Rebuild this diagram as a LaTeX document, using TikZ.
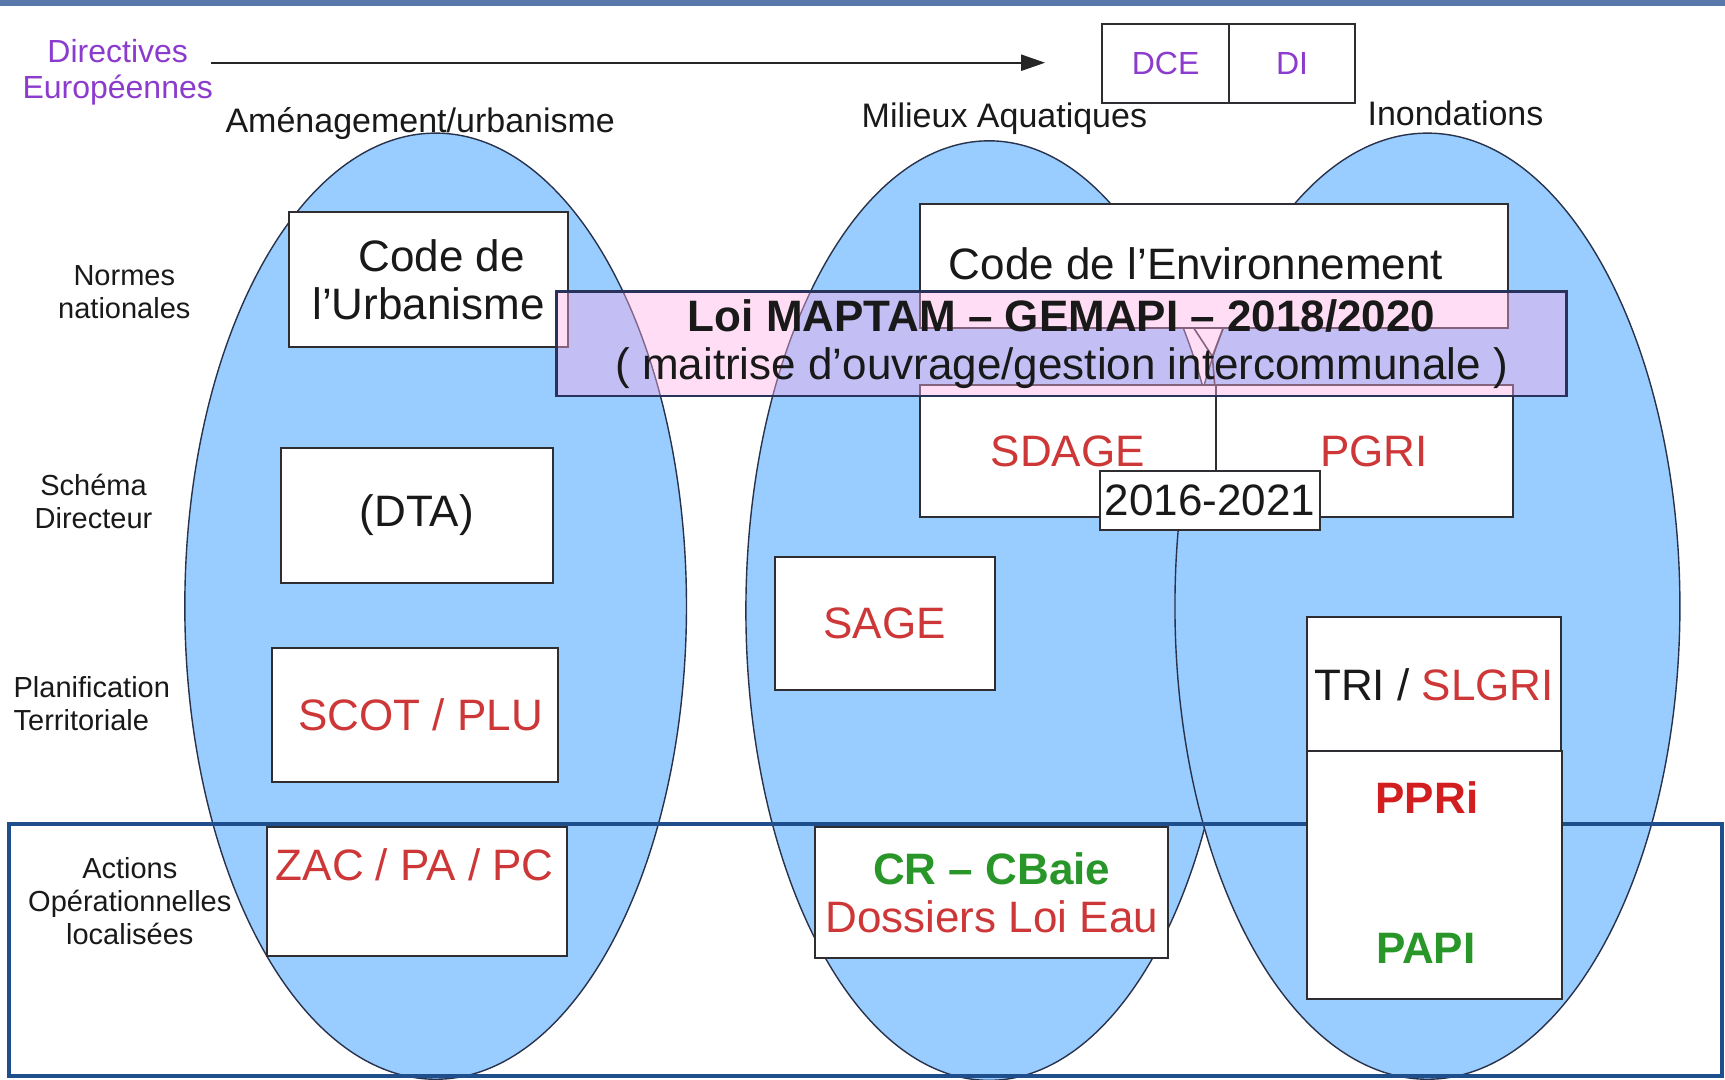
\documentclass[tikz,border=0pt]{standalone}
\usepackage{fontspec}
\setmainfont{Liberation Sans}
\usetikzlibrary{shapes.geometric,arrows.meta}
\definecolor{ellfill}{RGB}{153,204,255}
\definecolor{ellline}{RGB}{40,50,75}
\definecolor{rectline}{RGB}{30,78,140}
\definecolor{topband}{RGB}{88,120,170}
\definecolor{boxline}{RGB}{45,45,50}
\definecolor{txt}{RGB}{25,25,25}
\definecolor{purp}{RGB}{140,60,205}
\definecolor{redt}{RGB}{205,55,55}
\definecolor{redb}{RGB}{210,30,30}
\definecolor{greent}{RGB}{40,150,40}
\definecolor{mapfill}{RGB}{255,175,230}
\definecolor{mapline}{RGB}{40,50,90}
\begin{document}
\begin{tikzpicture}[x=0.55pt,y=-0.55pt,
  wh/.style 2 args={minimum width=#1*0.55pt, minimum height=#2*0.55pt},
  ell/.style={ellipse, draw=ellline, fill=ellfill, line width=0.7pt, inner sep=0pt},
  box/.style={rectangle, draw=boxline, fill=white, line width=1pt, inner sep=0pt, text=txt},
  big/.style={font=\fontsize{22}{24}\selectfont, text=txt},
  coltitle/.style={font=\fontsize{17}{19}\selectfont, text=txt},
  rowlabel/.style={font=\fontsize{14.5}{16.5}\selectfont, text=txt, inner sep=0pt},
  purpl/.style={font=\fontsize{16}{18}\selectfont, text=purp, inner sep=0pt},
]
\useasboundingbox (0,0) rectangle (1568,981);
\fill[topband] (0,0) rectangle (1568,5.5);

% ellipses
\node[ell, wh={456}{860}] (e1) at (396,551) {};
\node[ell, wh={442}{854}] (e2) at (899,555) {};
\node[ell, wh={459}{860}] (e3) at (1297.5,551) {};

% operational band
\node[draw=rectline, line width=2pt, inner sep=0pt, wh={1557}{229}] (ops) at (786.5,863.5) {};

% European directives
\node[purpl, align=center] (dir) at (107,66) {Directives\\Européennes};
\node[box, wh={115}{72}, purpl] (dce) at (1059.5,58) {DCE};
\node[box, wh={115}{72}, purpl] (di) at (1174.5,58) {DI};
\coordinate (as) at (192,57);
\coordinate (ae) at (950,57);
\draw[line width=1.1pt, draw=black!85, -{Triangle[length=12pt,width=8pt]}] (as) -- (ae);

% column titles
\node[coltitle] (t1) at (382,112) {Aménagement/urbanisme};
\node[coltitle] (t2) at (913,108) {Milieux Aquatiques};
\node[coltitle] (t3) at (1323,103) {Inondations};

% row labels
\node[rowlabel, align=center] (r1) at (113,266) {Normes\\nationales};
\node[rowlabel, align=center] (r2) at (85,456) {Schéma\\Directeur};
\node[rowlabel, align=left, anchor=west] (r3) at (12,640) {Planification\\Territoriale};
\node[rowlabel, align=center] (r4) at (118,819) {Actions\\Opérationnelles\\localisées};

% urbanisme column
\node[box, wh={253}{122}, big, align=center] (urb) at (389.5,254) {\hspace*{13pt}Code de\\l’Urbanisme};
\node[box, wh={248}{123}, big] (dta) at (379,468.5) {(DTA)};
\node[box, wh={260}{122}, big, text=redt] (scot) at (377,650) {\hspace*{6pt}SCOT / PLU};
\node[box, wh={272}{117}] (zac) at (379,810.5) {};
\node[big, text=redt, inner sep=0pt] (zact) at (377,786) {ZAC / PA / PC};

% milieux aquatiques / inondations
\node[box, wh={535}{113}, big] (env) at (1103.5,241.5) {\raisebox{2pt}{Code de l’Environnement}\hspace*{18pt}};
\draw[boxline, line width=0.8pt] (1085,298) -- (1102,324) -- (1112,298);
\node[box, wh={269}{120}, big, text=redt] (sdage) at (970.5,410) {SDAGE};
\node[box, wh={270}{120}, big, text=redt] (pgri) at (1240,410) {\hspace*{10pt}PGRI};
\draw[boxline, line width=0.8pt] (1102,324) -- (pgri.north west);
\node[box, wh={200}{54}, big] (yrs) at (1100,455) {2016-2021};
\node[box, wh={200}{121}, big, text=redt] (sage) at (804,566.5) {SAGE};
\node[box, wh={321}{119}, big, align=center] (cr) at (901.5,811.5) {\textcolor{greent}{\textbf{CR – CBaie}}\\\textcolor{redt}{Dossiers Loi Eau}};
\node[box, wh={231}{122}, big] (tri) at (1303.5,622) {TRI / \textcolor{redt}{SLGRI}};
\node[box, wh={232}{225}] (ppri) at (1304,795.5) {};
\node[big, text=redb, font=\fontsize{22}{24}\selectfont\bfseries, inner sep=0pt] (pprit) at (1297,725) {PPRi};
\node[big, text=greent, font=\fontsize{22}{24}\selectfont\bfseries, inner sep=0pt] (papit) at (1296,862) {PAPI};

% MAPTAM translucent band
\node[draw=mapline, line width=1.3pt, fill=mapfill, fill opacity=0.42, text opacity=1,
      wh={918}{95}, inner sep=0pt, big, align=center] (maptam) at (965,312.5)
  {\textbf{Loi MAPTAM – GEMAPI – 2018/2020}\\( maitrise d’ouvrage/gestion intercommunale )};
\end{tikzpicture}
\end{document}
